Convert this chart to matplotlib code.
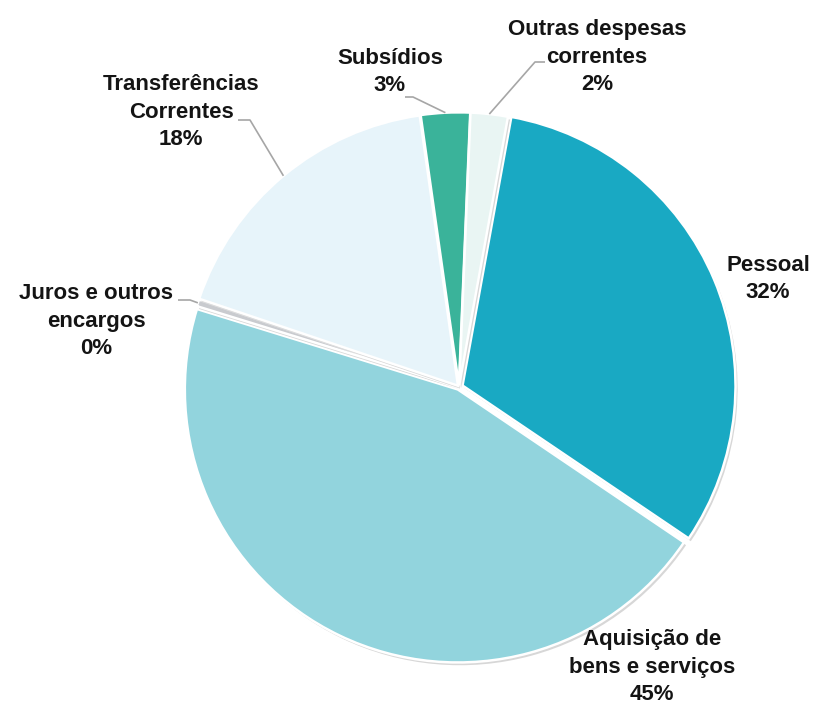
import numpy as np
import matplotlib
matplotlib.use("Agg")
import matplotlib.pyplot as plt
import matplotlib.patheffects as pe

# ---- data ----
categories = ["Pessoal", "Aquisição de\nbens e serviços", "Juros e outros\nencargos",
              "Transferências\nCorrentes", "Subsídios", "Outras despesas\ncorrentes"]
values = [31.6, 45.3, 0.4, 17.6, 2.9, 2.2]
colors = ["#19A9C3", "#92D4DD", "#C9CBCF", "#E7F4FA", "#3AB39A", "#E9F5F3"]

# ---- layout (pixels) ----
W, H = 815, 707
CX, CY, R = 459, 387, 273
label_pos = [(768, 279), (652, 667), (96, 321), (181, 112), (390, 72), (597, 57)]
leaders = [None, None, [(190, 300), (178, 300)], [(250, 120), (238, 120)],
           [(413, 97), (405, 97)], [(535, 62), (545, 62)]]
explode = [0.014, 0.01, 0.005, 0.006, 0.006, 0.006]


def px(x, y):
    return ((x - CX) / R, (CY - y) / R)


fig = plt.figure(figsize=(W / 100, H / 100), dpi=100)
ax = fig.add_axes([0, 0, 1, 1])

wedges, _ = ax.pie(values, colors=colors, startangle=79.7, counterclock=False,
                   explode=explode, radius=1.0,
                   wedgeprops=dict(edgecolor="white", linewidth=1.8))
for w in wedges:
    w.set_path_effects([pe.SimplePatchShadow(offset=(1.5, -2), alpha=0.25,
                                             shadow_rgbFace="#606060"),
                        pe.Normal()])
ax.set_xlim(-CX / R, (W - CX) / R)
ax.set_ylim(-(H - CY) / R, CY / R)
ax.set_aspect("auto")
ax.axis("off")

total = sum(values)
for w, name, v, pos, lead in zip(wedges, categories, values, label_pos, leaders):
    pct = int(round(v / total * 100))
    tx, ty = px(*pos)
    ax.text(tx, ty, f"{name}\n{pct}%", ha="center", va="center",
            fontsize=16, fontweight="bold", color="#141414",
            family=["Liberation Sans", "DejaVu Sans"], linespacing=1.42)
    if lead is not None:
        mid = np.deg2rad((w.theta1 + w.theta2) / 2)
        ax_, ay_ = w.center[0] + w.r * np.cos(mid), w.center[1] + w.r * np.sin(mid)
        pts = [(ax_, ay_)] + [px(*p) for p in lead]
        xs, ys = zip(*pts)
        ax.plot(xs, ys, color="#A6A6A6", lw=1.2, solid_capstyle="butt")

fig.savefig("out.png", dpi=100, facecolor="white")
